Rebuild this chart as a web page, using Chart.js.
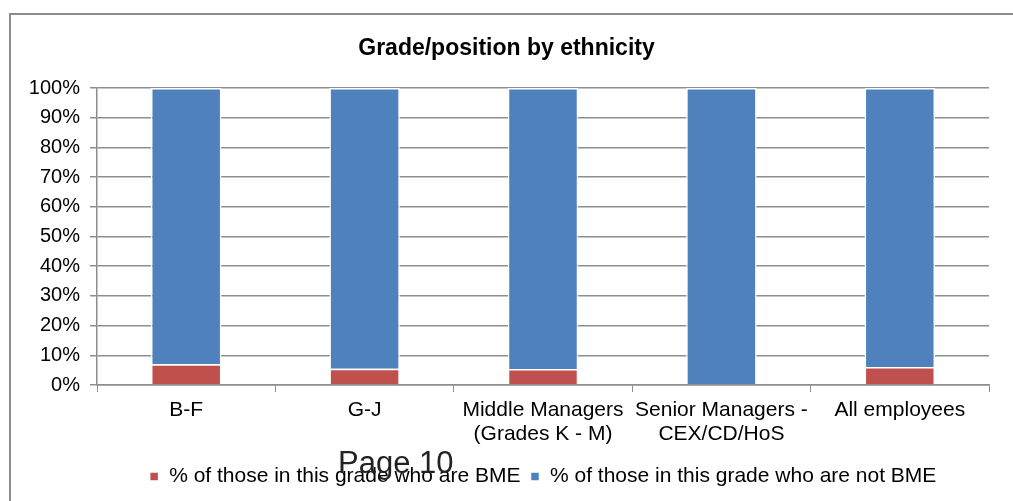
<!DOCTYPE html>
<html>
<head>
<meta charset="utf-8">
<script src="https://cdn.jsdelivr.net/npm/chart.js"></script>
<style>
  html, body { margin: 0; padding: 0; background: #fff; overflow: hidden; }
  #wrap { position: relative; width: 1013px; height: 501px; }
  #frame { position: absolute; left: 9px; top: 13px; width: 1100px; height: 600px; border: 2px solid #8c8c8c; box-sizing: border-box; }
  #chart { position: absolute; left: 0; top: 0; }
  #page { position: absolute; left: 338px; top: 445px; font: 31px "Liberation Sans", Arial, sans-serif; color: #222; line-height: 36px; }
</style>
</head>
<body>
<div id="wrap">
  <div id="frame"></div>
  <canvas id="chart" width="1013" height="501"></canvas>
  <div id="page">Page 10</div>
</div>
<script>
// Grade/position by ethnicity - 100% stacked
const categories = ['B-F', 'G-J', ['Middle Managers', '(Grades K - M)'], ['Senior Managers -', 'CEX/CD/HoS'], 'All employees'];
const bmePct = [7.0, 5.5, 5.4, 0, 6.1];
const notBmePct = [93.0, 94.5, 94.6, 100, 93.9];
const yTicks = [0, 10, 20, 30, 40, 50, 60, 70, 80, 90, 100];

const FONT = '"Liberation Sans", Arial, sans-serif';
const GRID = '#8e8e8e';

new Chart(document.getElementById('chart'), {
  type: 'bar',
  data: {
    labels: categories,
    datasets: [
      {
        label: '% of those in this grade who are BME',
        data: bmePct,
        backgroundColor: '#C0504D',
        borderColor: '#ffffff',
        borderWidth: 1.5,
        categoryPercentage: 1,
        barPercentage: 0.395
      },
      {
        label: '% of those in this grade who are not BME',
        data: notBmePct,
        backgroundColor: '#4F81BD',
        borderColor: '#ffffff',
        borderWidth: 1.5,
        categoryPercentage: 1,
        barPercentage: 0.395
      }
    ]
  },
  options: {
    responsive: false,
    animation: false,
    layout: { padding: { top: 14, left: 24, right: 24, bottom: 4 } },
    plugins: {
      title: {
        display: true,
        text: 'Grade/position by ethnicity',
        color: '#000',
        font: { family: FONT, size: 23, weight: 'bold' },
        padding: { top: 21, bottom: 25.4 }
      },
      legend: {
        position: 'bottom',
        fullSize: false,
        labels: {
          color: '#000',
          font: { family: FONT, size: 21 },
          boxWidth: 9,
          boxHeight: 9,
          padding: 10
        }
      },
      tooltip: { enabled: false }
    },
    scales: {
      x: {
        stacked: true,
        grid: { display: true, drawOnChartArea: false, offset: true, color: GRID, tickLength: 7 },
        border: { color: GRID, width: 1.5 },
        ticks: { color: '#000', font: { family: FONT, size: 21, lineHeight: 1.15 }, padding: 6, maxRotation: 0, autoSkip: false },
        afterFit: (s) => { s.height = 71; }
      },
      y: {
        stacked: true,
        min: 0,
        max: 100,
        afterBuildTicks: (s) => { s.ticks = yTicks.map(v => ({ value: v })); },
        grid: { color: GRID, lineWidth: 1.5, tickLength: 7 },
        border: { color: GRID, width: 1.5 },
        ticks: { color: '#000', font: { family: FONT, size: 20 }, padding: 10, callback: (v) => v + '%' },
        afterFit: (s) => { s.width = 73; }
      }
    }
  }
});
</script>
</body>
</html>
